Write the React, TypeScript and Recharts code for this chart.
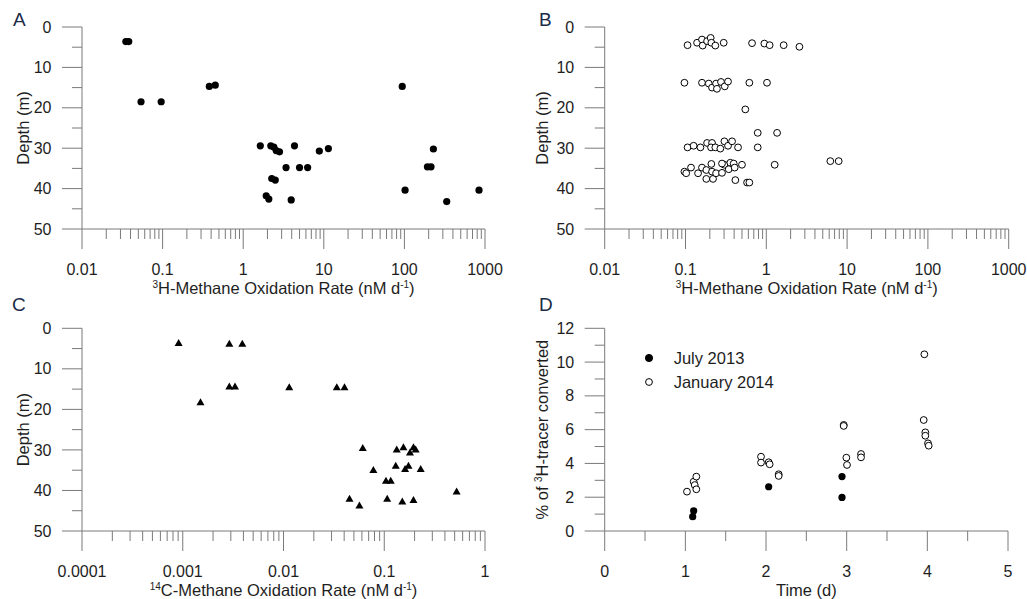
import React from 'react';
import { ScatterChart, Scatter, XAxis, YAxis, Legend } from 'recharts';

const FONT = '"Liberation Sans", Arial, Helvetica, sans-serif';
const TEXT = '#1e1e1e';
const AXIS = '#7a7a7a';
const LETTER = '#1b2a47';

// Panel A: 3H-CH4 oxidation rate (nM d-1) vs depth (m)
const rateA = [0.035, 0.038, 0.054, 0.096, 0.38, 0.45, 94, 1.63, 2.2, 2.4, 2.57, 2.82, 4.33, 8.8, 11.4, 3.4, 5.0, 6.3, 2.26, 2.5, 1.93, 2.08, 3.94, 102, 193, 214, 229, 335, 843];
const depthA = [3.6, 3.6, 18.5, 18.5, 14.7, 14.4, 14.7, 29.4, 29.4, 29.7, 30.6, 30.9, 29.4, 30.7, 30.1, 34.8, 34.8, 34.8, 37.5, 37.9, 41.8, 42.6, 42.8, 40.4, 34.6, 34.6, 30.2, 43.2, 40.4];

// Panel B: 3H-CH4 oxidation rate (nM d-1) vs depth (m), second campaign
const rateB = [
  0.106, 0.139, 0.16, 0.163, 0.185, 0.205, 0.209, 0.234, 0.297, 0.666, 0.946, 1.1, 1.64, 2.57,
  0.097, 0.16, 0.194, 0.213, 0.239, 0.245, 0.275, 0.306, 0.336, 0.617, 1.02,
  0.55, 0.783, 1.36,
  0.106, 0.126, 0.153, 0.185, 0.213, 0.207, 0.234, 0.27, 0.303, 0.336, 0.377, 0.447, 0.783,
  0.097, 0.102, 0.117, 0.143, 0.16, 0.181, 0.181, 0.213, 0.219, 0.209, 0.239, 0.283, 0.303, 0.283, 0.359, 0.395, 0.343, 0.406, 0.5, 0.414, 0.578, 0.617, 1.27, 6.2, 7.87,
];
const depthB = [
  4.5, 3.9, 3.1, 4.6, 3.5, 2.7, 3.9, 4.6, 3.9, 4.0, 4.1, 4.5, 4.5, 4.9,
  13.8, 13.8, 14.0, 15.0, 14.0, 15.3, 13.6, 14.7, 13.5, 13.8, 13.8,
  20.4, 26.2, 26.2,
  29.8, 29.4, 29.8, 28.7, 28.7, 29.8, 29.8, 30.1, 28.3, 29.4, 28.3, 29.8, 29.8,
  35.8, 36.2, 34.8, 36.2, 34.8, 35.4, 37.6, 35.8, 37.6, 33.9, 36.2, 36.1, 34.1, 33.8, 33.6, 33.8, 35.2, 34.8, 34.1, 37.9, 38.5, 38.5, 34.1, 33.2, 33.2,
];

// Panel C: 14C-CH4 oxidation rate (nM d-1) vs depth (m)
const rateC = [0.00091, 0.0029, 0.0039, 0.0015, 0.0029, 0.0033, 0.0114, 0.0338, 0.0403, 0.0612, 0.133, 0.155, 0.195, 0.205, 0.18, 0.078, 0.13, 0.161, 0.174, 0.23, 0.104, 0.116, 0.0452, 0.0567, 0.107, 0.151, 0.195, 0.523];
const depthC = [3.7, 3.9, 3.9, 18.3, 14.4, 14.4, 14.6, 14.6, 14.6, 29.6, 30.0, 29.4, 29.4, 30.0, 30.7, 35.0, 34.0, 34.8, 34.0, 34.8, 37.7, 37.7, 42.1, 43.8, 42.1, 42.8, 42.4, 40.3];

// Panel D: percent of 3H tracer converted over incubation time (d)
const timeJuly = [1.103, 1.091, 2.033, 2.942, 2.942];
const pctJuly = [1.2, 0.85, 2.62, 3.22, 1.99];
const timeJan = [1.02, 1.103, 1.116, 1.136, 1.136, 1.938, 1.938, 2.033, 2.045, 2.157, 2.157, 2.963, 2.963, 2.996, 3.004, 3.178, 3.178, 3.963, 3.955, 3.975, 3.975, 4.008, 4.017];
const pctJan = [2.33, 2.92, 2.72, 3.22, 2.47, 4.4, 4.05, 4.07, 3.95, 3.36, 3.26, 6.28, 6.22, 4.34, 3.91, 4.56, 4.36, 10.46, 6.57, 5.84, 5.64, 5.19, 5.05];

const seriesNames = ['July 2013', 'January 2014'];

// Axis tick values
const decades3H = [0.01, 0.1, 1, 10, 100, 1000];
const decades14C = [0.0001, 0.001, 0.01, 0.1, 1];
const depthTicks = [0, 5, 10, 15, 20, 25, 30, 35, 40, 45, 50];
const timeTicks = [0, 0.5, 1, 1.5, 2, 2.5, 3, 3.5, 4, 4.5, 5];
const pctTicks = [0, 1, 2, 3, 4, 5, 6, 7, 8, 9, 10, 11, 12];

const zip = (xs: number[], ys: number[]) => xs.map((x, i) => ({ x, y: ys[i] }));

// decade ticks plus the 2..9 sub-ticks in between
const logTicks = (decades: number[]) => {
  const out: number[] = [];
  decades.forEach((d, i) => {
    out.push(d);
    if (i < decades.length - 1) {
      for (let k = 2; k <= 9; k++) out.push(+(d * k).toPrecision(6));
    }
  });
  return out;
};

const isDecade = (v: number) => {
  const l = Math.log10(v);
  return Math.abs(l - Math.round(l)) < 1e-6;
};
const isStep = (step: number) => (v: number) => Math.abs(v / step - Math.round(v / step)) < 1e-6;

const textStyle = { fontFamily: FONT, fontSize: 16, fill: TEXT } as const;
const titleStyle = { fontFamily: FONT, fontSize: 16.5, fill: TEXT } as const;

const makeXTick = (isMajor: (v: number) => boolean) => (props: any) => {
  const { x, y, payload } = props;
  const v = payload.value as number;
  const major = isMajor(v);
  return (
    <g>
      <line x1={x} y1={y} x2={x} y2={y + (major ? 20 : 10)} stroke={AXIS} strokeWidth={1} />
      {major && (
        <text x={x} y={y + 45.6} textAnchor="middle" style={textStyle}>
          {String(v)}
        </text>
      )}
    </g>
  );
};

const makeYTick = (isMajor: (v: number) => boolean) => (props: any) => {
  const { x, y, payload } = props;
  const v = payload.value as number;
  const major = isMajor(v);
  return (
    <g>
      <line x1={x} y1={y} x2={x - (major ? 20 : 10)} y2={y} stroke={AXIS} strokeWidth={1} />
      {major && (
        <text x={x - 30.5} y={y + 5.6} textAnchor="end" style={textStyle}>
          {String(v)}
        </text>
      )}
    </g>
  );
};

// x-axis title with a superscript isotope mass and d^-1 unit
const rateTitle = (mass: string, element: string) => (p: any) => {
  const vb = p.viewBox;
  return (
    <text x={vb.x + vb.width / 2} y={vb.y + 64.5} textAnchor="middle" style={titleStyle}>
      <tspan fontSize={10} dy={-6}>{mass}</tspan>
      <tspan dy={6}>{element}-Methane Oxidation Rate (nM d</tspan>
      <tspan fontSize={10} dy={-6}>-1</tspan>
      <tspan dy={6}>)</tspan>
    </text>
  );
};

const plainXTitle = (label: string) => (p: any) => {
  const vb = p.viewBox;
  return (
    <text x={vb.x + vb.width / 2} y={vb.y + 64.5} textAnchor="middle" style={titleStyle}>
      {label}
    </text>
  );
};

const yTitle = (offset: number, content: React.ReactNode) => (p: any) => {
  const vb = p.viewBox;
  const cx = vb.x + vb.width - offset;
  const cy = vb.y + vb.height / 2;
  return (
    <text x={cx} y={cy + 5.8} textAnchor="middle" transform={`rotate(-90 ${cx} ${cy})`} style={titleStyle}>
      {content}
    </text>
  );
};

const filledDot = (p: any) => <circle cx={p.cx} cy={p.cy} r={3.6} fill="#000" />;
const openDot = (p: any) => <circle cx={p.cx} cy={p.cy} r={3.4} fill="#fff" stroke="#000" strokeWidth={1} />;
const triangle = (p: any) => (
  <path d={`M${p.cx},${p.cy - 4.3} L${p.cx + 4},${p.cy + 2.7} L${p.cx - 4},${p.cy + 2.7} Z`} fill="#000" />
);

const PanelLetter = ({ left, top, children }: { left: number; top: number; children: string }) => (
  <div
    style={{
      position: 'absolute',
      left,
      top,
      fontFamily: FONT,
      fontSize: 19,
      lineHeight: '19px',
      color: LETTER,
    }}
  >
    {children}
  </div>
);

const legendContent = (props: any) => {
  const items = [...(props.payload || [])].sort(
    (a: any, b: any) => seriesNames.indexOf(a.value) - seriesNames.indexOf(b.value)
  );
  return (
    <div style={{ fontFamily: FONT, fontSize: 16.5, color: TEXT }}>
      {items.map((e: any) => (
        <div key={e.value} style={{ display: 'flex', alignItems: 'center', height: 24, whiteSpace: 'nowrap' }}>
          <svg width={29} height={24} style={{ display: 'block' }}>
            <circle cx={4} cy={12} r={e.value === seriesNames[0] ? 3.6 : 3.4} fill={e.color} stroke="#000" strokeWidth={1} />
          </svg>
          <span>{e.value}</span>
        </div>
      ))}
    </div>
  );
};

const depthTitle = yTitle(59, 'Depth (m)');

export default function App() {
  const ticks3H = logTicks(decades3H);
  const ticks14C = logTicks(decades14C);
  const logX = makeXTick(isDecade);
  const depthY = makeYTick(isStep(10));
  const timeX = makeXTick(isStep(1));
  const pctY = makeYTick(isStep(2));

  return (
    <div style={{ position: 'absolute', left: 0, top: 0, width: 1027, height: 599, background: '#fff', overflow: 'hidden' }}>
      {/* A */}
      <div style={{ position: 'absolute', left: 0, top: 0 }}>
        <ScatterChart width={512} height={300} margin={{ top: 27, right: 27, bottom: 0, left: 0 }}>
          <XAxis
            type="number" dataKey="x" scale="log" domain={[0.01, 1000]} allowDataOverflow
            ticks={ticks3H} interval={0} tick={logX} tickLine={false} tickSize={0} tickMargin={0}
            axisLine={{ stroke: AXIS }} height={71} label={rateTitle('3', 'H')}
          />
          <YAxis
            type="number" dataKey="y" domain={[0, 50]} reversed allowDataOverflow
            ticks={depthTicks} interval={0} tick={depthY} tickLine={false} tickSize={0} tickMargin={0}
            axisLine={{ stroke: AXIS }} width={82} label={depthTitle}
          />
          <Scatter data={zip(rateA, depthA)} shape={filledDot} isAnimationActive={false} />
        </ScatterChart>
      </div>

      {/* B */}
      <div style={{ position: 'absolute', left: 512, top: 0 }}>
        <ScatterChart width={515} height={300} margin={{ top: 27, right: 18.3, bottom: 0, left: 0 }}>
          <XAxis
            type="number" dataKey="x" scale="log" domain={[0.01, 1000]} allowDataOverflow
            ticks={ticks3H} interval={0} tick={logX} tickLine={false} tickSize={0} tickMargin={0}
            axisLine={{ stroke: AXIS }} height={71} label={rateTitle('3', 'H')}
          />
          <YAxis
            type="number" dataKey="y" domain={[0, 50]} reversed allowDataOverflow
            ticks={depthTicks} interval={0} tick={depthY} tickLine={false} tickSize={0} tickMargin={0}
            axisLine={{ stroke: AXIS }} width={92.7} label={yTitle(62, 'Depth (m)')}
          />
          <Scatter data={zip(rateB, depthB)} shape={openDot} isAnimationActive={false} />
        </ScatterChart>
      </div>

      {/* C */}
      <div style={{ position: 'absolute', left: 0, top: 300 }}>
        <ScatterChart width={512} height={299} margin={{ top: 28.3, right: 27, bottom: 0, left: 0 }}>
          <XAxis
            type="number" dataKey="x" scale="log" domain={[0.0001, 1]} allowDataOverflow
            ticks={ticks14C} interval={0} tick={logX} tickLine={false} tickSize={0} tickMargin={0}
            axisLine={{ stroke: AXIS }} height={68} label={rateTitle('14', 'C')}
          />
          <YAxis
            type="number" dataKey="y" domain={[0, 50]} reversed allowDataOverflow
            ticks={depthTicks} interval={0} tick={depthY} tickLine={false} tickSize={0} tickMargin={0}
            axisLine={{ stroke: AXIS }} width={82} label={depthTitle}
          />
          <Scatter data={zip(rateC, depthC)} shape={triangle} isAnimationActive={false} />
        </ScatterChart>
      </div>

      {/* D */}
      <div style={{ position: 'absolute', left: 512, top: 300 }}>
        <ScatterChart width={515} height={299} margin={{ top: 28.3, right: 19, bottom: 0, left: 0 }}>
          <XAxis
            type="number" dataKey="x" domain={[0, 5]} allowDataOverflow
            ticks={timeTicks} interval={0} tick={timeX} tickLine={false} tickSize={0} tickMargin={0}
            axisLine={{ stroke: AXIS }} height={68} label={plainXTitle('Time (d)')}
          />
          <YAxis
            type="number" dataKey="y" domain={[0, 12]} allowDataOverflow
            ticks={pctTicks} interval={0} tick={pctY} tickLine={false} tickSize={0} tickMargin={0}
            axisLine={{ stroke: AXIS }} width={92.7}
            label={yTitle(62, (
              <>
                <tspan>% of </tspan>
                <tspan fontSize={10} dy={-6}>3</tspan>
                <tspan dy={6}>H-tracer converted</tspan>
              </>
            ))}
          />
          <Legend
            layout="vertical" align="center" verticalAlign="middle"
            wrapperStyle={{ left: 132.7, top: 46, width: 'auto', height: 'auto' }}
            content={legendContent}
          />
          <Scatter name={seriesNames[0]} data={zip(timeJuly, pctJuly)} fill="#000" shape={filledDot} isAnimationActive={false} />
          <Scatter name={seriesNames[1]} data={zip(timeJan, pctJan)} fill="#fff" shape={openDot} isAnimationActive={false} />
        </ScatterChart>
      </div>

      <PanelLetter left={13} top={10}>A</PanelLetter>
      <PanelLetter left={539} top={10}>B</PanelLetter>
      <PanelLetter left={12} top={295}>C</PanelLetter>
      <PanelLetter left={539} top={295}>D</PanelLetter>
    </div>
  );
}
